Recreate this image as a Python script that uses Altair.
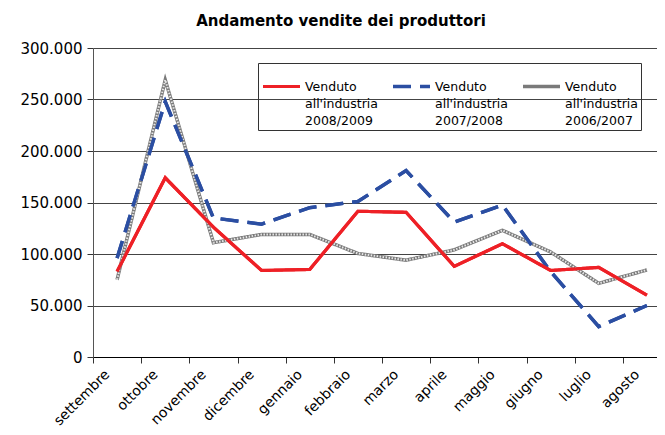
import altair as alt
import pandas as pd

months = ["settembre", "ottobre", "novembre", "dicembre", "gennaio", "febbraio",
          "marzo", "aprile", "maggio", "giugno", "luglio", "agosto"]
s_0809 = [83000, 174000, 126000, 84000, 85000, 141500, 140500, 88000, 110000, 84000, 87000, 60000]
s_0708 = [96000, 248000, 135000, 129000, 145000, 151000, 181000, 131000, 147500, 83000, 29500, 50000]
s_0607 = [75000, 269000, 111000, 119000, 119000, 100500, 94000, 104000, 123000, 102000, 71500, 84500]
series = ["Venduto|all'industria|2008/2009", "Venduto|all'industria|2007/2008",
          "Venduto|all'industria|2006/2007"]
colors = ["#ee2026", "#2b4ea2", "#7a7a7a"]
y_ticks = [0, 50000, 100000, 150000, 200000, 250000, 300000]

rows = []
for name, vals in zip(series, [s_0809, s_0708, s_0607]):
    for m, v in zip(months, vals):
        rows.append({"mese": m, "valore": v, "serie": name})
df = pd.DataFrame(rows)

FONT = "DejaVu Sans"

x_enc = alt.X("mese:N", sort=months, title=None,
              scale=alt.Scale(range=[0, 578]),
              axis=alt.Axis(labelAngle=-45, labelFontSize=14, labelColor="#000",
                            labelFont=FONT, tickBand="extent", ticks=True, tickSize=6,
                            tickColor="#333", domainColor="#000", labelPadding=9,
                            labelAlign="right", labelBaseline="middle",
                            labelOffset=-10, grid=False))
y_enc = alt.Y("valore:Q", title=None,
              scale=alt.Scale(domain=[0, 300000], nice=False),
              axis=alt.Axis(values=y_ticks, labelFontSize=15, labelFont=FONT,
                            labelColor="#000", tickSize=6, labelPadding=5,
                            tickColor="#333", domainColor="#555", gridColor="#444",
                            gridWidth=1,
                            labelExpr="replace(format(datum.value, ','), /,/g, '.')"))

base = alt.Chart(df)

main = base.mark_line(strokeCap="butt", strokeJoin="miter").encode(
    x=x_enc, y=y_enc,
    color=alt.Color("serie:N", scale=alt.Scale(domain=series, range=colors),
                    legend=alt.Legend(title=None, orient="none", legendX=165, legendY=15,
                                      direction="horizontal", columns=3,
                                      symbolType="stroke", symbolSize=1369,
                                      symbolStrokeWidth=4, labelFontSize=12.5,
                                      labelFont=FONT, labelColor="#000",
                                      labelExpr="split(datum.label, '|')",
                                      labelOffset=3, columnPadding=8, padding=3,
                                      strokeColor="#333", labelBaseline="middle",
                                      labelLimit=200)),
    strokeDash=alt.StrokeDash("serie:N", scale=alt.Scale(domain=series,
                              range=[[1, 0], [18, 9], [1, 0]]), legend=None),
    strokeWidth=alt.StrokeWidth("serie:N", scale=alt.Scale(domain=series,
                                range=[3.2, 3.5, 4.5]), legend=None),
)

texture = base.transform_filter(alt.datum.serie == series[2]).mark_line(
    color="#e8e8e8", strokeWidth=2, strokeDash=[1.5, 1.5], strokeCap="butt"
).encode(x=x_enc, y=y_enc)

blue = base.transform_filter(alt.datum.serie == series[1]).mark_line(
    color=colors[1], strokeWidth=3.5, strokeDash=[18, 9], strokeCap="butt"
).encode(x=x_enc, y=y_enc)

red = base.transform_filter(alt.datum.serie == series[0]).mark_line(
    color=colors[0], strokeWidth=3.2
).encode(x=x_enc, y=y_enc)

chart = alt.layer(main, texture, blue, red).properties(
    width=564, height=309,
    title=alt.TitleParams("Andamento vendite dei produttori", anchor="middle", dx=-34,
                          fontSize=15, font=FONT, fontWeight="bold", color="#000",
                          offset=12),
    autosize=alt.AutoSizeParams(type="none"),
    padding={"left": 85, "top": 40, "right": 0, "bottom": 70},
).configure_view(stroke=None).configure(
    background="white", style={"guide-label": {"lineHeight": 17}}
)

chart.save("out.html", embed_options={"renderer": "svg", "actions": False})
